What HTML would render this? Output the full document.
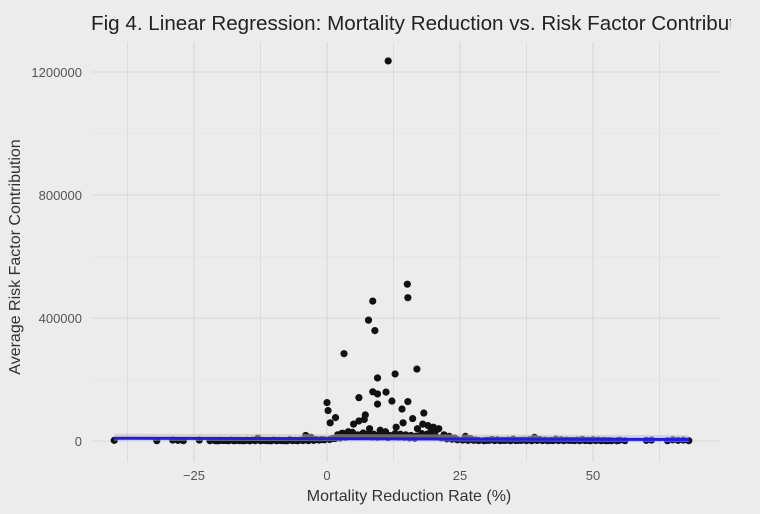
<!DOCTYPE html>
<html><head><meta charset="utf-8"><style>
html,body{margin:0;padding:0;background:#ececec;}
svg{display:block;font-family:"Liberation Sans",Arial,sans-serif;}
</style></head><body>
<svg id="chart" width="760" height="514">
<rect width="760" height="514" fill="#ececec"/>
<defs><clipPath id="tclip"><rect x="0" y="0" width="731" height="50"/></clipPath></defs>
<g clip-path="url(#tclip)"><text x="91" y="30" font-size="20.5" fill="#222" textLength="660" lengthAdjust="spacingAndGlyphs">Fig 4. Linear Regression: Mortality Reduction vs. Risk Factor Contributio</text></g>
<g id="grid"></g><g id="axes"></g><g id="pts"></g><g id="fit"></g>
<text x="409" y="501" font-size="16" fill="#333" text-anchor="middle">Mortality Reduction Rate (%)</text>
<text transform="translate(20,257) rotate(-90)" font-size="16" fill="#333" text-anchor="middle">Average Risk Factor Contribution</text>
</svg>
<script>
const xTicks=[-25,0,25,50];
const xTickLabels=["\u221225","0","25","50"];
const yTicks=[0,400000,800000,1200000];
const yTickLabels=["0","400000","800000","1200000"];
const xMinor=[-37.5,-12.5,12.5,37.5,62.5];
const yMinor=[200000,600000,1000000];
const xVals=[11.5,15.1,15.2,8.6,7.8,9.0,3.2,16.9,9.5,12.8,8.6,9.5,11.1,6.0,9.5,12.2,15.2,0,0.2,1.6,0.6,14.1,18.2,16.1,14.3,7.2,
 5,6,7,8,4,3,10,11,13,17,18,19,20,21,19.5,20.5,22,23,2,1,-1,-3,-4,
 -40,-32,-29,-28,-27,-24,-22,-20,-19,-18,-17,-16,-15,-14,-13,-12,-11,-10,-9,-8,-7,-6,-5,-2,
 24,26,27,28,30,31,32,33,34,35,36,37,38,39,40,41,42,43,44,45,46,47,48,49,50,51,52,53,55,56,60,61,64,65,66,67,68,
 -21,-20.5,-19.5,-18.5,-17.5,-16.5,-15.5,-14.5,-13.5,-12.5,-11.5,-10.5,-9.5,-8.5,-7.5,-6.5,-5.5,-4.5,-3.5,-2.5,-1.5,-0.5,
 0.5,1.5,2.5,3.5,4.5,5.5,6.5,7.5,8.5,9.5,10.5,11.5,12.5,13.5,14.5,15.5,16.5,17.5,18.5,19.5,20.5,21.5,22.5,23.5,24.5,
 2.8,3.8,4.8,5.8,6.8,7.8,8.8,9.8,10.8,11.8,12.8,13.8,14.8,15.8,16.8,17.8,18.8,
 25.5,26.5,27.5,28.5,29.5,30.5,31.5,32.5,33.5,34.5,35.5,36.5,37.5,38.5,39.5,40.5,41.5,42.5,43.5,44.5,45.5,46.5,47.5,48.5,49.5,50.5,51.5,52.5,53.5,54.5];
const yVals=[1236000,510000,466000,455000,393000,359000,284000,234000,205000,218000,160000,153000,159000,141000,120000,130000,128000,125000,99000,76000,59000,104000,91000,73000,59000,85000,
 55000,65000,70000,40000,30000,25000,35000,30000,45000,40000,55000,50000,45000,40000,30000,35000,20000,15000,20000,8000,5000,12000,18000,
 2000,1000,3000,2000,1000,3000,1000,2000,1500,3000,2000,1000,2500,3000,9000,2000,1000,3000,2000,1000,4000,2000,3000,5000,
 10000,15000,8000,3000,2000,5000,4000,2000,3000,6000,2000,3000,4000,12000,5000,3000,2000,6000,4000,3000,2000,3000,5000,2000,4000,3000,2000,1500,2500,1000,2000,3000,1000,4000,2000,3000,1000,
 1000,500,1500,800,600,1200,900,700,1100,800,1300,600,900,1000,700,1200,800,1500,1000,2000,3000,4000,
 5000,8000,10000,12000,15000,14000,16000,18000,13000,12000,14000,11000,15000,13000,12000,10000,9000,14000,18000,20000,14000,10000,7000,6000,4000,
 25000,22000,28000,20000,26000,24000,22000,20000,26000,18000,24000,22000,20000,18000,16000,24000,22000,
 3000,2000,2500,1500,1000,2000,1500,1200,1800,1000,1500,2000,1200,1000,1800,1500,1000,1200,1500,1000,1800,1200,1000,1500,900,1200,1000,800,1000,700];
const fitX=[-40,68];
const fitY=[9000,5000];
const X=v=>327+v*5.32, Y=v=>441-v*123/400000;
const NS="http://www.w3.org/2000/svg";
function mk(tag,attrs,parent){const e=document.createElementNS(NS,tag);for(const k in attrs)e.setAttribute(k,attrs[k]);document.getElementById(parent).appendChild(e);return e;}
const L=92,R=720,T=42,B=462;
xMinor.forEach(v=>{const e=mk('line',{x1:X(v),x2:X(v),y1:T,y2:B,stroke:'#dcdcdc','stroke-width':1},'grid');

});
yMinor.forEach(v=>{const e=mk('line',{x1:L,x2:R,y1:Y(v),y2:Y(v),stroke:'#e2e2e2','stroke-width':0.6},'grid');

});
xTicks.forEach((v,i)=>{const e=mk('line',{x1:X(v),x2:X(v),y1:T,y2:B,stroke:'#d8d8d8','stroke-width':1.1},'grid');


const t=mk('text',{x:X(v),y:480,'font-size':13,fill:'#555','text-anchor':'middle'},'axes');t.textContent=xTickLabels[i];

});
yTicks.forEach((v,i)=>{const e=mk('line',{x1:L,x2:R,y1:Y(v),y2:Y(v),stroke:'#d8d8d8','stroke-width':1.1},'grid');


const t=mk('text',{x:82,y:Y(v)+5,'font-size':13,fill:'#555','text-anchor':'end'},'axes');t.textContent=yTickLabels[i];

});
xVals.forEach((v,i)=>{const c=mk('circle',{cx:X(v),cy:Y(yVals[i]),r:3.6,fill:'#111'},'pts');

});
const band=mk('line',{x1:X(fitX[0]),x2:X(fitX[1]),y1:Y(fitY[0])-1,y2:Y(fitY[1])-1,stroke:'#c8c0b0','stroke-width':7,opacity:0.5},'fit');


const ln=mk('line',{x1:X(fitX[0]),x2:X(fitX[1]),y1:Y(fitY[0]),y2:Y(fitY[1]),stroke:'#1a1aff','stroke-width':3},'fit');


</script>
</body></html>
